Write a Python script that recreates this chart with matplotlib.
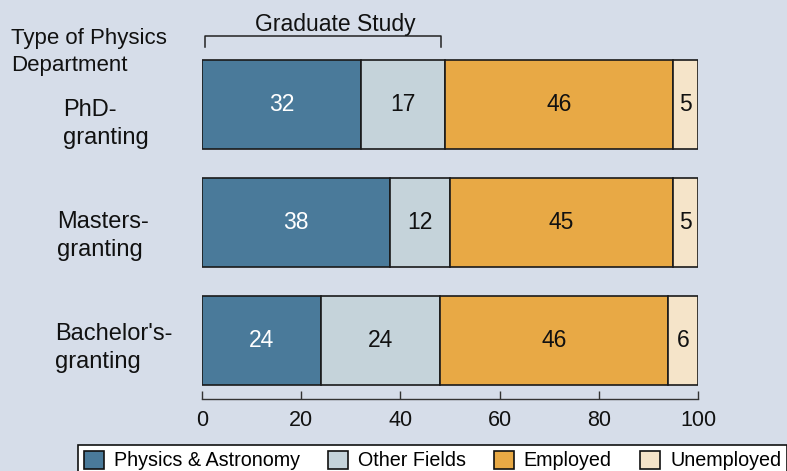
import matplotlib.pyplot as plt
from matplotlib.patches import Patch
import numpy as np

plt.rcParams['font.family'] = ['Liberation Sans', 'DejaVu Sans']

# Data (percent of physics bachelors)
departments = ["PhD-\ngranting", "Masters-\ngranting", "Bachelor's-\ngranting"]
series = ["Physics & Astronomy", "Other Fields", "Employed", "Unemployed"]
phys_astro = [32, 38, 24]
other_fields = [17, 12, 24]
employed = [46, 45, 46]
unemployed = [5, 5, 6]
ticks = [0, 20, 40, 60, 80, 100]

colors = ['#4a7a9a', '#c5d3da', '#e8a945', '#f5e4c9']
text_colors = ['white', '#111111', '#111111', '#111111']
bg = '#d6dde9'

W, H = 787, 471
fig = plt.figure(figsize=(W / 100, H / 100), dpi=100)
fig.patch.set_facecolor(bg)
ax = fig.add_axes([202 / W, (H - 399) / H, 496 / W, (399 - 46) / H])
ax.set_facecolor(bg)

y = np.arange(len(departments))
left = np.zeros(len(departments))
for vals, c, tc in zip([phys_astro, other_fields, employed, unemployed], colors, text_colors):
    bars = ax.barh(y, vals, left=left, height=0.754, color=c,
                   edgecolor='#1a1a1a', linewidth=1.2)
    for b, v in zip(bars, vals):
        ax.text(b.get_x() + b.get_width() / 2, b.get_y() + b.get_height() / 2,
                str(v), ha='center', va='center', color=tc, fontsize=16.5)
    left += np.array(vals)

ax.set_xlim(0, 100)
ax.set_ylim(2.496, -0.496)
ax.set_xticks(ticks)
ax.set_yticks([])
for s in ['left', 'right', 'top']:
    ax.spines[s].set_visible(False)
ax.spines['bottom'].set_color('#333333')
ax.spines['bottom'].set_linewidth(1.0)
ax.tick_params(axis='x', direction='in', length=6, width=1.0, color='#333333',
               labelsize=15.5, pad=8, labelcolor='#111111')

# category labels
label_x = [63, 57, 55]
label_dy = [5.5, 11.5, 17.5]
for i, (lab, lx, dy) in enumerate(zip(departments, label_x, label_dy)):
    ax.annotate(lab, xy=(lx, i), xycoords=('figure pixels', 'data'),
                xytext=(0, dy), textcoords='offset pixels',
                ha='left', va='top', fontsize=17, linespacing=1.35,
                color='#111111', annotation_clip=False)

# "Graduate Study" bracket over the first two series
g0, g1 = 0.6, phys_astro[2] + other_fields[2] + 0.2
bt = ax.get_xaxis_transform()
ax.plot([g0, g0, g1, g1], [0.997, 1.028, 1.028, 0.997], color='#222222',
        lw=1.1, transform=bt, clip_on=False)
ax.text(26.8, 1.043, 'Graduate Study', transform=bt, ha='center', va='baseline',
        fontsize=16.5, color='#111111')

fig.text(11 / W, 1 - 28 / H, 'Type of Physics\nDepartment', ha='left', va='top',
         fontsize=16, linespacing=1.4, color='#111111')

handles = [Patch(facecolor=c, edgecolor='#111111', linewidth=1.2) for c in colors]
leg = fig.legend(handles, series, loc='upper left',
                 bbox_to_anchor=(78 / W, 1 - 445 / H), ncol=4, frameon=True,
                 fancybox=False, edgecolor='#111111', framealpha=1,
                 fontsize=14.2, handlelength=1.0, handleheight=1.0,
                 handletextpad=0.5, columnspacing=1.45, borderpad=0.3,
                 borderaxespad=0)
leg.get_frame().set_linewidth(1.2)

fig.savefig('out.png', dpi=100, facecolor=bg)
